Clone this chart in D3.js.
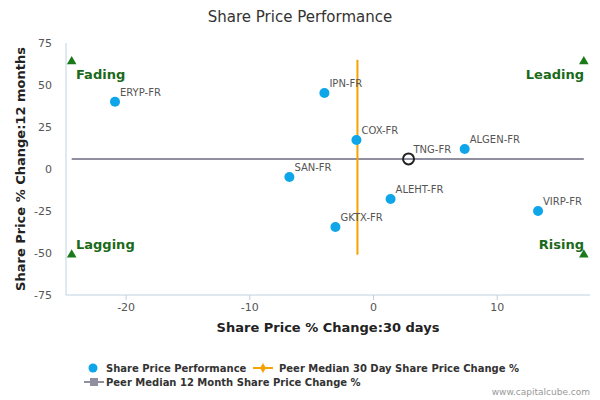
<!DOCTYPE html>
<html><head><meta charset="utf-8">
<script src="https://cdn.jsdelivr.net/npm/d3@7"></script>
<style>body{margin:0;font-family:"DejaVu Sans",sans-serif;background:#fff}</style>
</head><body><svg id="c" width="600" height="400"></svg>
<script>
// data
const names = ["ERYP-FR","IPN-FR","COX-FR","SAN-FR","ALGEN-FR","ALEHT-FR","GKTX-FR","VIRP-FR"];
const xVals = [-20.9,-3.97,-1.38,-6.8,7.37,1.38,-3.08,13.3];
const yVals = [40,45.2,17.3,-4.8,11.9,-17.9,-34.5,-25];
const subject = {name:"TNG-FR", x:2.83, y:6};
const medianX = -1.3, medianY = 6;
const xTicks = [-20,-10,0,10];
const yTicks = [75,50,25,0,-25,-50,-75];

const svg = d3.select("#c");
const x = d3.scaleLinear().domain([-24.86,17.5]).range([66,590]);
const y = d3.scaleLinear().domain([-75,75]).range([295,43]);

svg.append("text").attr("x",300).attr("y",22).attr("text-anchor","middle")
  .attr("font-size",15).attr("fill","#333").text("Share Price Performance");

// axes
svg.append("line").attr("x1",66).attr("x2",590).attr("y1",295).attr("y2",295).attr("stroke","#c0d0e0");
svg.append("line").attr("x1",66).attr("x2",66).attr("y1",43).attr("y2",295).attr("stroke","#c0d0e0");
yTicks.forEach(t => svg.append("text").attr("x",52).attr("y",y(t)+4).attr("text-anchor","end")
  .attr("font-size",11).attr("fill","#555").text(t));
xTicks.forEach(t => {
  svg.append("line").attr("x1",x(t)).attr("x2",x(t)).attr("y1",295).attr("y2",300).attr("stroke","#c0d0e0");
  svg.append("text").attr("x",x(t)).attr("y",311).attr("text-anchor","middle")
    .attr("font-size",11).attr("fill","#555").text(t);
});
svg.append("text").attr("x",328).attr("y",332).attr("text-anchor","middle").attr("font-size",13)
  .attr("font-weight","bold").attr("fill","#222").text("Share Price % Change:30 days");
svg.append("text").attr("transform","translate(25,169) rotate(-90)").attr("text-anchor","middle")
  .attr("font-size",13).attr("font-weight","bold").attr("fill","#222").text("Share Price % Change:12 months");

// medians
svg.append("line").attr("x1",x(-24.4)).attr("x2",x(17)).attr("y1",y(medianY)).attr("y2",y(medianY))
  .attr("stroke","#8f8fa0").attr("stroke-width",2);
svg.append("line").attr("x1",x(medianX)).attr("x2",x(medianX)).attr("y1",y(65)).attr("y2",y(-51))
  .attr("stroke","#f4a300").attr("stroke-width",2);

// quadrant labels
const quads = [[-24.4,64,"Fading",76,79,"start"],[17,64,"Leading",584,79,"end"],
  [-24.4,-51,"Lagging",76,249,"start"],[17,-51,"Rising",584,249,"end"]];
quads.forEach(q => {
  svg.append("path").attr("d",d3.symbol(d3.symbolTriangle,40)())
    .attr("transform",`translate(${x(q[0])},${y(q[1])})`).attr("fill","#1a7a1a");
  svg.append("text").attr("x",q[3]).attr("y",q[4]).attr("text-anchor",q[5]).attr("font-size",13)
    .attr("font-weight","bold").attr("fill","#1a6a1a").text(q[2]);
});

// points
names.forEach((n,i) => {
  svg.append("circle").attr("cx",x(xVals[i])).attr("cy",y(yVals[i])).attr("r",5).attr("fill","#0ea5e9");
  svg.append("text").attr("x",x(xVals[i])+5).attr("y",y(yVals[i])-6).attr("font-size",10)
    .attr("fill","#555").text(n);
});
svg.append("circle").attr("cx",x(subject.x)).attr("cy",y(subject.y)).attr("r",5.5)
  .attr("fill","none").attr("stroke","#222").attr("stroke-width",2);
svg.append("text").attr("x",x(subject.x)+5).attr("y",y(subject.y)-6).attr("font-size",10)
  .attr("fill","#555").text(subject.name);

// legend
const lg = svg.append("g").attr("font-size",10).attr("font-weight","bold").attr("fill","#333");
lg.append("circle").attr("cx",93).attr("cy",368).attr("r",4.5).attr("fill","#0ea5e9");
lg.append("text").attr("x",106).attr("y",372).text("Share Price Performance");
lg.append("line").attr("x1",253).attr("x2",273).attr("y1",368).attr("y2",368).attr("stroke","#f4a300").attr("stroke-width",2);
lg.append("path").attr("d",d3.symbol(d3.symbolDiamond,30)()).attr("transform","translate(263,368)").attr("fill","#f4a300");
lg.append("text").attr("x",279).attr("y",372).text("Peer Median 30 Day Share Price Change %");
lg.append("line").attr("x1",84).attr("x2",104).attr("y1",382).attr("y2",382).attr("stroke","#8f8fa0").attr("stroke-width",2);
lg.append("rect").attr("x",90).attr("y",378).attr("width",8).attr("height",8).attr("fill","#8f8fa0");
lg.append("text").attr("x",106).attr("y",386).text("Peer Median 12 Month Share Price Change %");
svg.append("text").attr("x",590).attr("y",395).attr("text-anchor","end").attr("font-size",9)
  .attr("fill","#999").text("www.capitalcube.com");
</script></body></html>
